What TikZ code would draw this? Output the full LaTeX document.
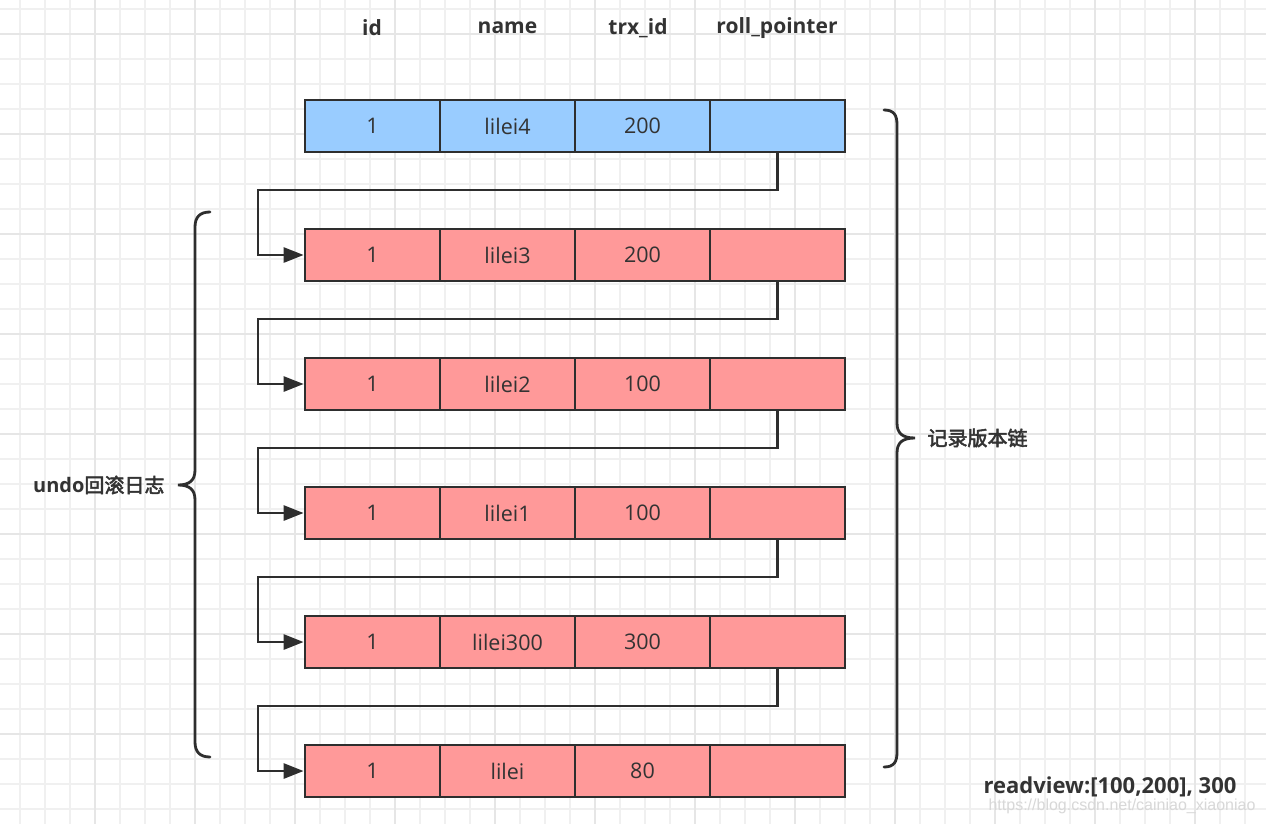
\documentclass[tikz,border=0pt]{standalone}
\usepackage{fontspec}
\setmainfont{Open Sans}
\newfontfamily\cjk[AutoFakeBold=2.5]{Noto Sans CJK SC}
\newfontfamily\wmfont{Liberation Sans}
\usetikzlibrary{arrows.meta}
\definecolor{bluefill}{HTML}{99CCFF}
\definecolor{redfill}{HTML}{FF9999}
\definecolor{edge}{HTML}{2E2E2E}
\definecolor{txt}{HTML}{333333}
\definecolor{gridminor}{HTML}{F0F0F0}
\definecolor{gridmajor}{HTML}{E6E6E6}
\definecolor{wm}{HTML}{D8D8D8}
\begin{document}
\begin{tikzpicture}[x=1pt,y=-1pt,
 cell/.style={draw=edge,line width=2.8pt,minimum width=135pt,minimum height=52pt,inner sep=0pt,text=txt,font=\fontsize{21.5}{24}\selectfont},
 bluecell/.style={cell,fill=bluefill},
 redcell/.style={cell,fill=redfill},
 head/.style={text=txt,font=\bfseries\fontsize{21}{24}\selectfont},
 conn/.style={draw=edge,line width=2.8pt,-{Triangle[length=20pt,width=15pt]}},
 brace/.style={draw=edge,line width=2.8pt,line cap=round},
 lab/.style={text=txt,font=\bfseries\fontsize{20}{24}\selectfont},
 rvlab/.style={text=txt,font=\bfseries\fontsize{22}{24}\selectfont},
 wmark/.style={text=wm,font=\wmfont\fontsize{16}{18}\selectfont}]
\useasboundingbox (0,0) rectangle (1266,824);
\fill[white] (0,0) rectangle (1266,824);
% grid
\foreach \i in {0,...,49}{
  \pgfmathsetmacro\gx{20+25*\i}
  \draw[gridminor,line width=1.2pt] (\gx,0) -- (\gx,824);
}
\foreach \i in {0,...,32}{
  \pgfmathsetmacro\gy{9+25*\i}
  \draw[gridminor,line width=1.2pt] (0,\gy) -- (1266,\gy);
}
\foreach \i in {0,...,12}{
  \pgfmathsetmacro\gx{95+100*\i}
  \draw[gridmajor,line width=1.4pt] (\gx,0) -- (\gx,824);
}
\foreach \i in {0,...,7}{
  \pgfmathsetmacro\gy{34+100*\i}
  \draw[gridmajor,line width=1.4pt] (0,\gy) -- (1266,\gy);
}
% headers
\node[head] (hid) at (372,28) {id};
\node[head] (hname) at (507.5,28) {name};
\node[head] (htrx) at (638,28) {trx\_id};
\node[head] (hroll) at (777,28) {roll\_pointer};
% rows
\foreach \r/\n/\t/\s in {0/lilei4/200/bluecell,1/lilei3/200/redcell,2/lilei2/100/redcell,3/lilei1/100/redcell,4/lilei300/300/redcell,5/lilei/80/redcell}{
  \pgfmathsetmacro\yy{126+129*\r}
  \node[\s] (r\r c0) at (372.5,\yy) {1};
  \node[\s] (r\r c1) at (507.5,\yy) {\n};
  \node[\s] (r\r c2) at (642.5,\yy) {\t};
  \node[\s] (r\r c3) at (777.5,\yy) {};
}
% connectors
\foreach \r/\nx in {0/1,1/2,2/3,3/4,4/5}{
  \pgfmathsetmacro\ky{190+129*\r}
  \coordinate (k\r) at (258,\ky);
  \draw[conn] (r\r c3.south) |- (k\r) |- (r\nx c0.west);
}
% left brace
\draw[brace] (210,212) .. controls (200,212) and (195,217) .. (195,227) -- (195,470)
  .. controls (195,480) and (190,485) .. (178,485)
  .. controls (190,485) and (195,490) .. (195,500) -- (195,742)
  .. controls (195,752) and (200,757) .. (210,757);
% right brace
\draw[brace] (884,110) .. controls (894,110) and (897,115) .. (897,125) -- (897,423)
  .. controls (897,433) and (902,438) .. (915,438)
  .. controls (902,438) and (897,443) .. (897,453) -- (897,752)
  .. controls (897,762) and (894,767) .. (884,767);
% labels
\node[lab,anchor=east] (undo) at (168,485) {undo{\cjk 回滚日志}};
\node[lab,anchor=west] (chain) at (924,438) {{\cjk 记录版本链}};
\node[rvlab] (rv) at (1110,787) {readview:[100,200], 300};
\node[wmark] (wmk) at (1122,806) {https://blog.csdn.net/cainiao\_xiaoniao};
\end{tikzpicture}
\end{document}
